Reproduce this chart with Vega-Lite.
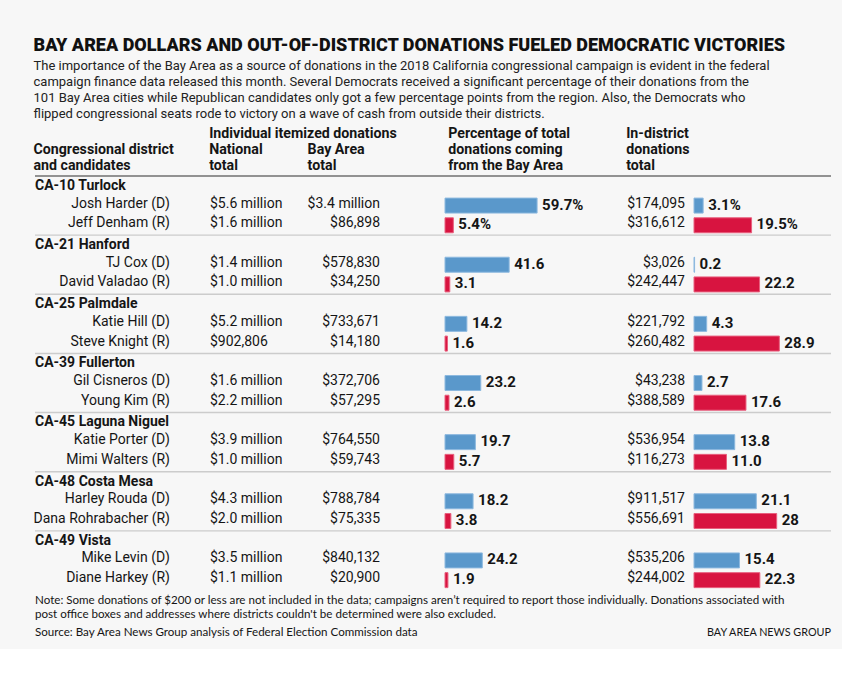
{
  "$schema": "https://vega.github.io/schema/vega-lite/v6.json",
  "background": "#f7f7f7",
  "padding": {"left": 33, "top": 37, "right": 10, "bottom": 10},
  "title": {
    "text": "BAY AREA DOLLARS AND OUT-OF-DISTRICT DONATIONS FUELED DEMOCRATIC VICTORIES",
    "subtitle": [
      "The importance of the Bay Area as a source of donations in the 2018 California congressional campaign is evident in the federal",
      "campaign finance data released this month. Several Democrats received a significant percentage of their donations from the",
      "101 Bay Area cities while Republican candidates only got a few percentage points from the region. Also, the Democrats who",
      "flipped congressional seats rode to victory on a wave of cash from outside their districts."
    ],
    "anchor": "start",
    "font": "Roboto",
    "fontSize": 18,
    "fontWeight": 900,
    "color": "#111111",
    "subtitleFont": "Roboto",
    "subtitleFontSize": 13,
    "subtitleColor": "#222222",
    "subtitleLineHeight": 16,
    "subtitlePadding": 5,
    "offset": 6
  },
  "datasets": {
    "rows": [
      {"idx": 0, "kind": "district", "name": "CA-10 Turlock"},
      {"idx": 1, "kind": "cand", "name": "Josh Harder (D)", "party": "D", "national": "$5.6 million", "bayarea": "$3.4 million", "pct": 59.7, "pctLabel": "59.7%", "indist": "$174,095", "inPct": 3.1, "inLabel": "3.1%"},
      {"idx": 2, "kind": "cand", "name": "Jeff Denham (R)", "party": "R", "national": "$1.6 million", "bayarea": "$86,898", "pct": 5.4, "pctLabel": "5.4%", "indist": "$316,612", "inPct": 19.5, "inLabel": "19.5%"},
      {"idx": 3, "kind": "district", "name": "CA-21 Hanford"},
      {"idx": 4, "kind": "cand", "name": "TJ Cox (D)", "party": "D", "national": "$1.4 million", "bayarea": "$578,830", "pct": 41.6, "pctLabel": "41.6", "indist": "$3,026", "inPct": 0.2, "inLabel": "0.2"},
      {"idx": 5, "kind": "cand", "name": "David Valadao (R)", "party": "R", "national": "$1.0 million", "bayarea": "$34,250", "pct": 3.1, "pctLabel": "3.1", "indist": "$242,447", "inPct": 22.2, "inLabel": "22.2"},
      {"idx": 6, "kind": "district", "name": "CA-25 Palmdale"},
      {"idx": 7, "kind": "cand", "name": "Katie Hill (D)", "party": "D", "national": "$5.2 million", "bayarea": "$733,671", "pct": 14.2, "pctLabel": "14.2", "indist": "$221,792", "inPct": 4.3, "inLabel": "4.3"},
      {"idx": 8, "kind": "cand", "name": "Steve Knight (R)", "party": "R", "national": "$902,806", "bayarea": "$14,180", "pct": 1.6, "pctLabel": "1.6", "indist": "$260,482", "inPct": 28.9, "inLabel": "28.9"},
      {"idx": 9, "kind": "district", "name": "CA-39 Fullerton"},
      {"idx": 10, "kind": "cand", "name": "Gil Cisneros (D)", "party": "D", "national": "$1.6 million", "bayarea": "$372,706", "pct": 23.2, "pctLabel": "23.2", "indist": "$43,238", "inPct": 2.7, "inLabel": "2.7"},
      {"idx": 11, "kind": "cand", "name": "Young Kim (R)", "party": "R", "national": "$2.2 million", "bayarea": "$57,295", "pct": 2.6, "pctLabel": "2.6", "indist": "$388,589", "inPct": 17.6, "inLabel": "17.6"},
      {"idx": 12, "kind": "district", "name": "CA-45 Laguna Niguel"},
      {"idx": 13, "kind": "cand", "name": "Katie Porter (D)", "party": "D", "national": "$3.9 million", "bayarea": "$764,550", "pct": 19.7, "pctLabel": "19.7", "indist": "$536,954", "inPct": 13.8, "inLabel": "13.8"},
      {"idx": 14, "kind": "cand", "name": "Mimi Walters (R)", "party": "R", "national": "$1.0 million", "bayarea": "$59,743", "pct": 5.7, "pctLabel": "5.7", "indist": "$116,273", "inPct": 11.0, "inLabel": "11.0"},
      {"idx": 15, "kind": "district", "name": "CA-48 Costa Mesa"},
      {"idx": 16, "kind": "cand", "name": "Harley Rouda (D)", "party": "D", "national": "$4.3 million", "bayarea": "$788,784", "pct": 18.2, "pctLabel": "18.2", "indist": "$911,517", "inPct": 21.1, "inLabel": "21.1"},
      {"idx": 17, "kind": "cand", "name": "Dana Rohrabacher (R)", "party": "R", "national": "$2.0 million", "bayarea": "$75,335", "pct": 3.8, "pctLabel": "3.8", "indist": "$556,691", "inPct": 28, "inLabel": "28"},
      {"idx": 18, "kind": "district", "name": "CA-49 Vista"},
      {"idx": 19, "kind": "cand", "name": "Mike Levin (D)", "party": "D", "national": "$3.5 million", "bayarea": "$840,132", "pct": 24.2, "pctLabel": "24.2", "indist": "$535,206", "inPct": 15.4, "inLabel": "15.4"},
      {"idx": 20, "kind": "cand", "name": "Diane Harkey (R)", "party": "R", "national": "$1.1 million", "bayarea": "$20,900", "pct": 1.9, "pctLabel": "1.9", "indist": "$244,002", "inPct": 22.3, "inLabel": "22.3"}
    ]
  },
  "spacing": 5,
  "vconcat": [
    {
      "hconcat": [
        {
          "width": 175, "height": 414,
          "title": {"text": ["Congressional district", "and candidates"]},
          "data": {"name": "rows"},
          "layer": [
            {"transform": [{"filter": "datum.kind === 'district'"}], "mark": {"type": "rule"},
             "encoding": {"y": {"field": "idx", "type": "ordinal", "bandPosition": 0, "axis": null, "scale": {"type": "band", "paddingInner": 0, "paddingOuter": 0}},
               "stroke": {"condition": {"test": "datum.idx === 0", "value": "#707070"}, "value": "#cccccc"},
               "strokeWidth": {"condition": {"test": "datum.idx === 0", "value": 1.6}, "value": 1.4}}},
            {"transform": [{"filter": "datum.kind === 'district'"}], "mark": {"type": "text", "align": "left", "baseline": "middle", "fontWeight": "bold", "dy": 0},
             "encoding": {"y": {"field": "idx", "type": "ordinal", "axis": null, "scale": {"type": "band", "paddingInner": 0, "paddingOuter": 0}},
               "x": {"datum": 0, "type": "quantitative", "scale": {"domain": [0, 1]}, "axis": null},
               "text": {"field": "name"}}},
            {"transform": [{"filter": "datum.kind === 'cand'"}], "mark": {"type": "text", "align": "right", "baseline": "middle", "dx": -40, "dy": -2},
             "encoding": {"y": {"field": "idx", "type": "ordinal", "axis": null, "scale": {"type": "band", "paddingInner": 0, "paddingOuter": 0}},
               "x": {"datum": 1, "type": "quantitative", "scale": {"domain": [0, 1]}, "axis": null},
               "text": {"field": "name"}}}
          ]
        },
        {
          "width": 114, "height": 414,
          "title": {"text": ["Individual itemized donations", "National", "total"]},
          "data": {"name": "rows"},
          "layer": [
            {"transform": [{"filter": "datum.kind === 'district'"}], "mark": {"type": "rule"},
             "encoding": {"y": {"field": "idx", "type": "ordinal", "bandPosition": 0, "axis": null, "scale": {"type": "band", "paddingInner": 0, "paddingOuter": 0}},
               "stroke": {"condition": {"test": "datum.idx === 0", "value": "#707070"}, "value": "#cccccc"},
               "strokeWidth": {"condition": {"test": "datum.idx === 0", "value": 1.6}, "value": 1.4}}},
            {"transform": [{"filter": "datum.kind === 'cand'"}], "mark": {"type": "text", "align": "left", "baseline": "middle", "dy": -2},
             "encoding": {"y": {"field": "idx", "type": "ordinal", "axis": null, "scale": {"type": "band", "paddingInner": 0, "paddingOuter": 0}},
               "x": {"datum": 0, "type": "quantitative", "scale": {"domain": [0, 1]}, "axis": null},
               "text": {"field": "national"}}}
          ]
        },
        {
          "width": 121, "height": 414,
          "title": {"text": ["Bay Area", "total"]},
          "data": {"name": "rows"},
          "layer": [
            {"transform": [{"filter": "datum.kind === 'district'"}], "mark": {"type": "rule"},
             "encoding": {"y": {"field": "idx", "type": "ordinal", "bandPosition": 0, "axis": null, "scale": {"type": "band", "paddingInner": 0, "paddingOuter": 0}},
               "stroke": {"condition": {"test": "datum.idx === 0", "value": "#707070"}, "value": "#cccccc"},
               "strokeWidth": {"condition": {"test": "datum.idx === 0", "value": 1.6}, "value": 1.4}}},
            {"transform": [{"filter": "datum.kind === 'cand'"}], "mark": {"type": "text", "align": "right", "baseline": "middle", "dx": -65, "dy": -2},
             "encoding": {"y": {"field": "idx", "type": "ordinal", "axis": null, "scale": {"type": "band", "paddingInner": 0, "paddingOuter": 0}},
               "x": {"datum": 1, "type": "quantitative", "scale": {"domain": [0, 1]}, "axis": null},
               "text": {"field": "bayarea"}}}
          ]
        },
        {
          "width": 182, "height": 414,
          "title": {"text": ["Percentage of total", "donations coming", "from the Bay Area"], "dx": 4},
          "data": {"name": "rows"},
          "layer": [
            {"transform": [{"filter": "datum.kind === 'district'"}], "mark": {"type": "rule"},
             "encoding": {"y": {"field": "idx", "type": "ordinal", "bandPosition": 0, "axis": null, "scale": {"type": "band", "paddingInner": 0, "paddingOuter": 0}},
               "stroke": {"condition": {"test": "datum.idx === 0", "value": "#707070"}, "value": "#cccccc"},
               "strokeWidth": {"condition": {"test": "datum.idx === 0", "value": 1.6}, "value": 1.4}}},
            {"transform": [{"filter": "datum.kind === 'cand'"}], "mark": {"type": "bar", "height": {"band": 0.76}, "strokeWidth": 1},
             "encoding": {"y": {"field": "idx", "type": "ordinal", "axis": null, "scale": {"type": "band", "paddingInner": 0, "paddingOuter": 0}},
               "x": {"field": "pct", "type": "quantitative", "scale": {"domain": [0, 118]}, "axis": null},
               "fill": {"field": "party", "type": "nominal", "scale": {"domain": ["D", "R"], "range": ["#5a98cb", "#d81440"]}, "legend": null},
               "stroke": {"field": "party", "type": "nominal", "scale": {"domain": ["D", "R"], "range": ["#8db9df", "#e8607e"]}, "legend": null}}},
            {"transform": [{"filter": "datum.kind === 'cand'"}], "mark": {"type": "text", "align": "left", "baseline": "middle", "dx": 5, "dy": -1, "fontWeight": "bold", "fontSize": 15},
             "encoding": {"y": {"field": "idx", "type": "ordinal", "axis": null, "scale": {"type": "band", "paddingInner": 0, "paddingOuter": 0}},
               "x": {"field": "pct", "type": "quantitative", "scale": {"domain": [0, 118]}, "axis": null},
               "text": {"field": "pctLabel"}}}
          ]
        },
        {
          "width": 67, "height": 414,
          "title": {"text": ["In-district", "donations", "total"]},
          "data": {"name": "rows"},
          "layer": [
            {"transform": [{"filter": "datum.kind === 'district'"}], "mark": {"type": "rule"},
             "encoding": {"y": {"field": "idx", "type": "ordinal", "bandPosition": 0, "axis": null, "scale": {"type": "band", "paddingInner": 0, "paddingOuter": 0}},
               "stroke": {"condition": {"test": "datum.idx === 0", "value": "#707070"}, "value": "#cccccc"},
               "strokeWidth": {"condition": {"test": "datum.idx === 0", "value": 1.6}, "value": 1.4}}},
            {"transform": [{"filter": "datum.kind === 'cand'"}], "mark": {"type": "text", "align": "right", "baseline": "middle", "dx": -9, "dy": -2},
             "encoding": {"y": {"field": "idx", "type": "ordinal", "axis": null, "scale": {"type": "band", "paddingInner": 0, "paddingOuter": 0}},
               "x": {"datum": 1, "type": "quantitative", "scale": {"domain": [0, 1]}, "axis": null},
               "text": {"field": "indist"}}}
          ]
        },
        {
          "width": 137, "height": 414,
          "data": {"name": "rows"},
          "layer": [
            {"transform": [{"filter": "datum.kind === 'district'"}], "mark": {"type": "rule"},
             "encoding": {"y": {"field": "idx", "type": "ordinal", "bandPosition": 0, "axis": null, "scale": {"type": "band", "paddingInner": 0, "paddingOuter": 0}},
               "stroke": {"condition": {"test": "datum.idx === 0", "value": "#707070"}, "value": "#cccccc"},
               "strokeWidth": {"condition": {"test": "datum.idx === 0", "value": 1.6}, "value": 1.4}}},
            {"transform": [{"filter": "datum.kind === 'cand'"}], "mark": {"type": "bar", "height": {"band": 0.76}, "strokeWidth": 1},
             "encoding": {"y": {"field": "idx", "type": "ordinal", "axis": null, "scale": {"type": "band", "paddingInner": 0, "paddingOuter": 0}},
               "x": {"field": "inPct", "type": "quantitative", "scale": {"domain": [0, 46.4]}, "axis": null},
               "fill": {"field": "party", "type": "nominal", "scale": {"domain": ["D", "R"], "range": ["#5a98cb", "#d81440"]}, "legend": null},
               "stroke": {"field": "party", "type": "nominal", "scale": {"domain": ["D", "R"], "range": ["#8db9df", "#e8607e"]}, "legend": null}}},
            {"transform": [{"filter": "datum.kind === 'cand'"}], "mark": {"type": "text", "align": "left", "baseline": "middle", "dx": 5, "dy": -1, "fontWeight": "bold", "fontSize": 15},
             "encoding": {"y": {"field": "idx", "type": "ordinal", "axis": null, "scale": {"type": "band", "paddingInner": 0, "paddingOuter": 0}},
               "x": {"field": "inPct", "type": "quantitative", "scale": {"domain": [0, 46.4]}, "axis": null},
               "text": {"field": "inLabel"}}}
          ]
        }
      ],
      "spacing": 0,
      "bounds": "flush"
    },
    {
      "width": 796, "height": 32,
      "data": {"values": [
        {"part": "note", "side": "left", "text": "Note: Some donations of $200 or less are not included in the data; campaigns aren’t required to report those individually. Donations associated with\npost office boxes and addresses where districts couldn't be determined were also excluded."},
        {"part": "source", "side": "left", "text": "Source: Bay Area News Group analysis of Federal Election Commission data"},
        {"part": "source", "side": "right", "text": "BAY AREA NEWS GROUP"}
      ]},
      "layer": [
        {"transform": [{"filter": "datum.side === 'left'"}],
         "mark": {"type": "text", "align": "left", "baseline": "top", "lineBreak": "\n", "font": "Lato", "fontSize": 11.6, "lineHeight": 14},
         "encoding": {"y": {"field": "part", "type": "ordinal", "axis": null, "scale": {"type": "point", "padding": 0, "domain": ["note", "source"]}},
           "x": {"datum": 0, "type": "quantitative", "scale": {"domain": [0, 1]}, "axis": null},
           "text": {"field": "text"}}},
        {"transform": [{"filter": "datum.side === 'right'"}],
         "mark": {"type": "text", "align": "right", "baseline": "top", "font": "Lato", "fontSize": 10.8},
         "encoding": {"y": {"field": "part", "type": "ordinal", "axis": null, "scale": {"type": "point", "padding": 0, "domain": ["note", "source"]}},
           "x": {"datum": 1, "type": "quantitative", "scale": {"domain": [0, 1]}, "axis": null},
           "text": {"field": "text"}}}
      ]
    }
  ],
  "config": {
    "view": {"stroke": null},
    "title": {"font": "Roboto", "fontSize": 14.2, "fontWeight": "bold", "anchor": "start", "lineHeight": 16, "offset": 2, "color": "#151515"},
    "text": {"font": "Roboto", "fontSize": 14, "color": "#151515"}
  }
}
